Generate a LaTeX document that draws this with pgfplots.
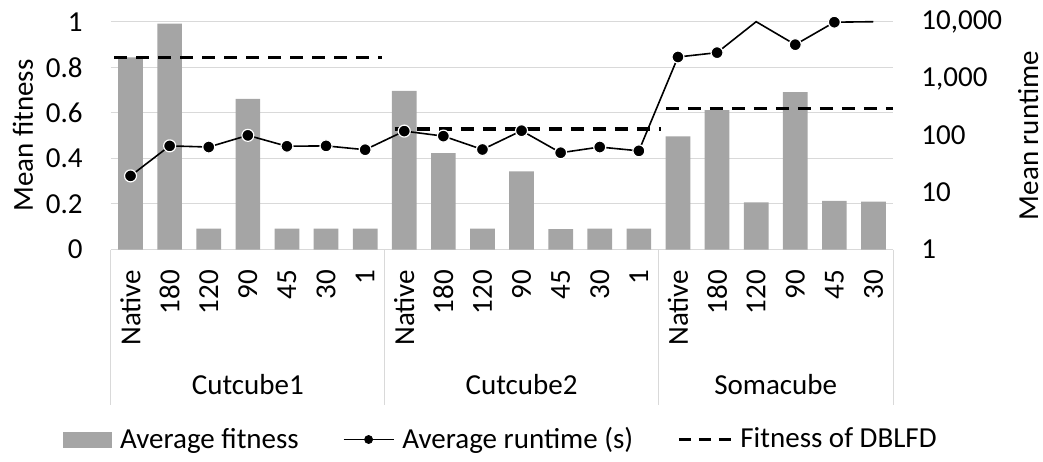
\documentclass[border=0pt]{standalone}
\usepackage{fontspec}
\setmainfont{Carlito}
\usepackage{pgfplots}
\pgfplotsset{compat=1.18}
\definecolor{barc}{HTML}{A5A5A5}
\definecolor{gridc}{HTML}{D9D9D9}
\begin{document}
\begin{tikzpicture}[font=\fontsize{14.5pt}{17.4pt}\selectfont]
\useasboundingbox (-55.5pt,-105.75pt) rectangle (466pt,124.75pt);
\begin{axis}[
 scale only axis, width=391pt, height=113.9pt,
 at={(0,0)}, anchor=south west,
 xmin=-0.5, xmax=19.5, ymin=0, ymax=1,
 axis x line*=bottom, axis y line*=left,
 x axis line style={draw=gridc, line width=0.5pt, -},
 y axis line style={draw=none},
 xtick={0,...,19},
 xticklabels={Native,180,120,90,45,30,1,Native,180,120,90,45,30,1,Native,180,120,90,45,30},
 major tick length=0pt, tick style={draw=none},
 xticklabel style={rotate=90, anchor=east, inner sep=0pt},
 xticklabel shift=10pt,
 ytick={0,0.2,0.4,0.6,0.8,1},
 yticklabel style={anchor=east, inner sep=0pt, /pgf/number format/fixed, /pgf/number format/precision=1},
 yticklabel shift=14pt,
 ymajorgrids, grid style={draw=gridc, line width=0.5pt},
 /pgf/number format/assume math mode=true,
 ylabel={Mean fitness},
 every axis y label/.style={at={([xshift=-39pt]axis description cs:0,0.5)}, anchor=base, rotate=90, inner sep=0pt},
 clip=false,
]
\addplot[ybar, bar width=12.35pt, fill=barc, draw=none] coordinates {
 (0,0.843) (1,0.992) (2,0.092) (3,0.661) (4,0.092) (5,0.092) (6,0.092)
 (7,0.696) (8,0.423) (9,0.092) (10,0.343) (11,0.089) (12,0.092) (13,0.092)
 (14,0.497) (15,0.612) (16,0.207) (17,0.691) (18,0.214) (19,0.210)};
\addplot[black, line width=1.6pt, dash pattern=on 6.5pt off 4.5pt] coordinates {(-0.42,0.843) (6.43,0.843)};
\addplot[black, line width=1.6pt, dash pattern=on 6.5pt off 4.5pt] coordinates {(6.76,0.529) (13.57,0.529)};
\addplot[black, line width=1.6pt, dash pattern=on 6.5pt off 4.5pt] coordinates {(13.69,0.618) (19.5,0.618)};
\draw[gridc, line width=0.5pt] (axis cs:-0.5,0) -- ([yshift=-77.5pt]axis cs:-0.5,0);
\draw[gridc, line width=0.5pt] (axis cs:6.5,0) -- ([yshift=-77.5pt]axis cs:6.5,0);
\draw[gridc, line width=0.5pt] (axis cs:13.5,0) -- ([yshift=-77.5pt]axis cs:13.5,0);
\draw[gridc, line width=0.5pt] (axis cs:19.5,0) -- ([yshift=-77.5pt]axis cs:19.5,0);
\node at ([yshift=-67.5pt]axis cs:3,0) {Cutcube1};
\node at ([yshift=-67.5pt]axis cs:10,0) {Cutcube2};
\node at ([yshift=-67.5pt]axis cs:16.5,0) {Somacube};
\end{axis}
\begin{axis}[
 scale only axis, width=391pt, height=113.9pt,
 at={(0,0)}, anchor=south west,
 xmin=-0.5, xmax=19.5, ymode=log, ymin=1, ymax=10000,
 axis x line=none, axis y line*=right, y axis line style={draw=none},
 major tick length=0pt, tick style={draw=none}, yminorticks=false,
 ytick={1,10,100,1000,10000}, yticklabels={1,10,100,{1,000},{10,000}},
 yticklabel style={anchor=west, inner sep=0pt},
 yticklabel shift=14pt,
 ylabel={Mean runtime},
 every axis y label/.style={at={([xshift=72.5pt]axis description cs:1,0.5)}, anchor=base, rotate=90, inner sep=0pt},
 clip=false,
 legend style={at={([yshift=-95pt]axis description cs:0.5,0)}, anchor=center, draw=none, fill=none,
   /tikz/every odd column/.append style={column sep=2pt},
   /tikz/every even column/.append style={column sep=20pt}},
 legend columns=3, legend cell align=left,
]
\addplot[black, line width=0.8pt, mark=none, forget plot] coordinates {
 (0,19.6) (1,66) (2,63) (3,101) (4,65) (5,66) (6,56.5)
 (7,120) (8,98) (9,57) (10,122) (11,50) (12,63) (13,54)
 (14,2400) (15,2860) (16,10000) (17,3950) (18,9800) (19,10000)};
\addplot[only marks, mark=*, mark size=3pt, mark options={fill=black, draw=white, line width=0.6pt}, forget plot] coordinates {
 (0,19.6) (1,66) (2,63) (3,101) (4,65) (5,66) (6,56.5)
 (7,120) (8,98) (9,57) (10,122) (11,50) (12,63) (13,54)
 (14,2400) (15,2860) (17,3950) (18,9800)};
\addlegendimage{legend image code/.code={\fill[barc] (0pt,-3.75pt) rectangle (24pt,3.75pt);}}
\addlegendentry{Average fitness}
\addlegendimage{legend image code/.code={\draw[black, line width=0.8pt] (0pt,0pt) -- (25pt,0pt); \fill[black] (12.5pt,0pt) circle (2pt);}}
\addlegendentry{Average runtime (s)}
\addlegendimage{legend image code/.code={\draw[black, line width=1.6pt, dash pattern=on 6pt off 4pt] (0pt,0pt) -- (26pt,0pt);}}
\addlegendentry{Fitness of DBLFD}
\end{axis}
\end{tikzpicture}
\end{document}
